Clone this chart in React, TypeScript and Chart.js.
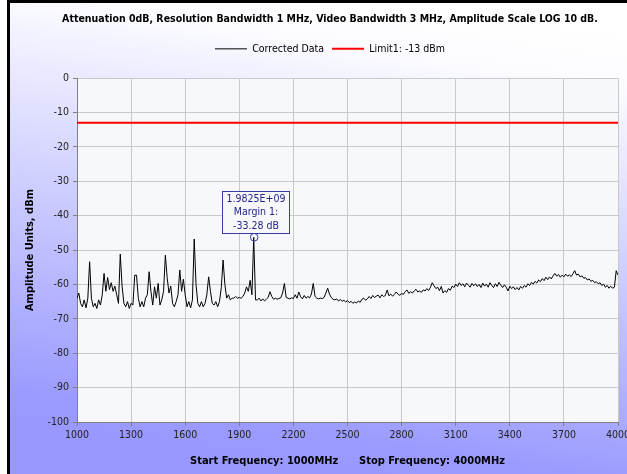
import React, { useEffect, useRef } from 'react';
import { Chart, registerables } from 'chart.js';

Chart.register(...registerables);

// ---- data ----
const FREQ_START = 1000; // MHz, first sweep point
const FREQ_STEP = 10; // MHz between sweep points

const correctedData: number[] = [
  // 1000-1090
  -64, -62.5, -65.5, -66.5, -64.5, -66.8, -64, -53.4, -64, -66.5,
  // 1100
  -65.5, -67, -64.5, -66, -63, -56.8, -62, -58, -61.5, -59.5,
  // 1200
  -62, -60.5, -63, -65.5, -51.2, -60.5, -65.5, -66.5, -65, -67,
  // 1300
  -65.5, -66, -57.3, -57.3, -64, -66.5, -65, -66.5, -64, -63,
  // 1400
  -56.3, -62, -66, -60.7, -64, -59.7, -66, -64.5, -62, -51.5,
  // 1500
  -58, -62.5, -60.5, -65.5, -66.5, -65, -63, -55.8, -62, -58.5,
  // 1600
  -63, -66.5, -65, -66.8, -64.5, -46.8, -60, -65.5, -66.5, -65,
  // 1700
  -66.5, -65.5, -63, -57.8, -62, -65.5, -66, -65, -66.5, -65,
  // 1800
  -61, -52.9, -60, -64, -63, -64.5, -64, -64, -63.5, -64,
  // 1900
  -63.8, -64, -63.5, -62.5, -60.7, -62, -58.8, -63, -46.3, -64.5,
  // 2000
  -64.5, -64, -64.8, -64.2, -64.8, -64.3, -63.8, -62.1, -63.5, -64.3,
  // 2100
  -64, -64.3, -64.1, -63.9, -62.5, -59.7, -63.8, -64, -64.2, -63.9,
  // 2200
  -64.1, -63, -64, -62.2, -63.6, -64.2, -63.2, -64, -63.5, -63.9,
  // 2300
  -62.8, -59.7, -63.5, -64, -64.2, -64, -64.1, -63.8, -62.5, -61.1,
  // 2400
  -62.8, -63.8, -64.3, -64.5, -64.2, -64.8, -64.4, -64.9, -64.6, -65.1,
  // 2500
  -64.7, -65.3, -64.9, -65.5, -65.1, -65.4, -64.8, -65.2, -64.3, -64,
  // 2600
  -64.6, -64.2, -63.5, -64.1, -63.2, -63.8, -63.4, -63.1, -63.9, -63,
  // 2700
  -63.5, -63.2, -61.6, -63.3, -62.8, -63.4, -62.9, -62.2, -62.8, -63.2,
  // 2800
  -62.6, -62.9, -62.1, -61.6, -62.6, -62.1, -62.5, -61.9, -61.4, -62.2,
  // 2900
  -61.9, -62.3, -61.6, -61.9, -61.2, -61.8, -60.8, -59.5, -60.4, -61.2,
  // 3000
  -60.8, -61.8, -60.6, -62.5, -61.8, -62.3, -61.2, -61.7, -60.5, -60.9,
  // 3100
  -59.9, -60.6, -59.5, -60.3, -59.8, -60.7, -59.6, -60.2, -60.8, -59.7,
  // 3200
  -60.4, -59.8, -60.6, -60, -60.9, -59.6, -60.5, -59.9, -60.8, -59.5,
  // 3300
  -60.3, -60.9, -59.8, -60.6, -59.4, -60.2, -60.9, -60.1, -60.8, -61.9,
  // 3400
  -60.5, -61.2, -60.7, -61.5, -60.9, -61.6, -60.6, -61.1, -60.3, -60.8,
  // 3500
  -59.8, -60.3, -59.4, -59.9, -59.1, -59.6, -58.7, -59.2, -58.3, -58.9,
  // 3600
  -57.9, -58.6, -57.8, -58.4, -57.5, -56.8, -57.6, -57.1, -57.9, -57.3,
  // 3700
  -57.8, -57, -57.6, -57.2, -57.7, -56.9, -56, -57.3, -57, -57.8,
  // 3800
  -57.5, -58.2, -58, -58.7, -58.4, -59.1, -58.8, -59.5, -59.2, -59.8,
  // 3900
  -59.5, -60.3, -59.9, -60.8, -60.3, -61.1, -60.5, -61.1, -60.8, -56,
  // 4000
  -57.3,
];

const limitLevel = -13; // dBm
const limitRange = [1000, 4000];

const xTickValues = [1000, 1300, 1600, 1900, 2200, 2500, 2800, 3100, 3400, 3700, 4000];
const yTickValues = [0, -10, -20, -30, -40, -50, -60, -70, -80, -90, -100];

const markerFreq = 1982.5; // MHz
const markerLevel = -46.28; // dBm
const markerLines = ['1.9825E+09', 'Margin 1:', '-33.28 dB'];

const titleText =
  'Attenuation 0dB, Resolution Bandwidth 1 MHz, Video Bandwidth 3 MHz, Amplitude Scale LOG 10 dB.';
const xTitleText = 'Start Frequency: 1000MHz      Stop Frequency: 4000MHz';
const yTitleText = 'Amplitude Units, dBm';
const seriesNames = ['Corrected Data', 'Limit1: -13 dBm'];

// ---- styling ----
const FONT = "'DejaVu Sans Condensed', 'DejaVu Sans', sans-serif";
const CANVAS_W = 636;
const CANVAS_H = 474;

const backgroundPlugin = {
  id: 'bgPaint',
  beforeDraw(chart: any) {
    const { ctx, chartArea } = chart;
    ctx.save();
    ctx.fillStyle = '#ffffff';
    ctx.fillRect(0, 0, chart.width, chart.height);
    const g = ctx.createLinearGradient(390, 0, 320, CANVAS_H);
    g.addColorStop(0, '#ffffff');
    g.addColorStop(0.1, '#fcfcff');
    g.addColorStop(0.93, '#9a9aff');
    g.addColorStop(1, '#9898ff');
    ctx.fillStyle = g;
    ctx.fillRect(10, 0, chart.width - 10, chart.height);
    ctx.fillStyle = '#000000';
    ctx.fillRect(7, 0, 3, chart.height);
    ctx.fillRect(7, 0, chart.width - 7, 3);
    ctx.fillStyle = '#f7f8fc';
    ctx.fillRect(chartArea.left, chartArea.top, chartArea.right - chartArea.left, chartArea.bottom - chartArea.top);
    ctx.restore();
  },
};

const markerPlugin = {
  id: 'marginMarker',
  afterDatasetsDraw(chart: any) {
    const { ctx, scales } = chart;
    const px = scales.x.getPixelForValue(markerFreq);
    const py = scales.y.getPixelForValue(markerLevel);
    ctx.save();
    ctx.strokeStyle = '#3a3aa8';
    ctx.lineWidth = 1;
    ctx.beginPath();
    ctx.arc(px, py, 3.8, 0, Math.PI * 2);
    ctx.stroke();
    ctx.font = `10.5px ${FONT}`;
    const lineH = 13.4;
    let tw = 0;
    for (const l of markerLines) tw = Math.max(tw, ctx.measureText(l).width);
    const w = Math.round(tw + 8);
    const h = Math.round(lineH * markerLines.length + 2);
    const bx = Math.round(px - w / 2 + 1) + 0.5;
    const by = Math.round(py - 4 - h) + 0.5;
    ctx.fillStyle = '#f7f8fc';
    ctx.fillRect(bx, by, w, h);
    ctx.strokeRect(bx, by, w, h);
    ctx.fillStyle = '#24248c';
    ctx.textAlign = 'center';
    ctx.textBaseline = 'middle';
    markerLines.forEach((l, i) => {
      ctx.fillText(l, bx + w / 2, by + 7.5 + i * lineH);
    });
    ctx.restore();
  },
};

export default function App() {
  const ref = useRef<HTMLCanvasElement | null>(null);

  useEffect(() => {
    if (!ref.current) return;
    const spectrum = correctedData.map((v, i) => ({ x: FREQ_START + i * FREQ_STEP, y: v }));
    const limit = limitRange.map((f) => ({ x: f, y: limitLevel }));

    const chart = new Chart(ref.current, {
      type: 'line',
      data: {
        datasets: [
          {
            label: seriesNames[0],
            data: spectrum,
            borderColor: '#000000',
            borderWidth: 1,
            pointRadius: 0,
            tension: 0,
            fill: false,
          },
          {
            label: seriesNames[1],
            data: limit,
            borderColor: '#ff0000',
            borderWidth: 2,
            pointRadius: 0,
            fill: false,
          },
        ],
      },
      options: {
        animation: false,
        responsive: false,
        devicePixelRatio: 1,
        layout: { padding: { left: 24, right: 0, top: 0, bottom: 0 } },
        plugins: {
          title: {
            display: true,
            text: titleText,
            color: '#000',
            font: { family: FONT, size: 10.5, weight: 'bold' },
            padding: { top: 13, bottom: 10 },
          },
          // empty spacer between legend and plot area
          subtitle: {
            display: true,
            text: '',
            weight: 500,
            font: { family: FONT, size: 10 },
            padding: { top: 1, bottom: 1 },
          },
          legend: {
            display: true,
            labels: {
              font: { family: FONT, size: 10.5 },
              color: '#000',
              usePointStyle: true,
              pointStyleWidth: 32,
              padding: 8,
              generateLabels: (c: any) =>
                c.data.datasets.map((ds: any, i: number) => ({
                  text: ds.label,
                  strokeStyle: ds.borderColor,
                  fillStyle: ds.borderColor,
                  lineWidth: ds.borderWidth,
                  pointStyle: 'line',
                  hidden: false,
                  datasetIndex: i,
                  fontColor: '#000',
                })),
            },
          },
          tooltip: { enabled: false },
        },
        scales: {
          x: {
            type: 'linear',
            min: 1000,
            max: 4000,
            afterBuildTicks: (s: any) => {
              s.ticks = xTickValues.map((v) => ({ value: v }));
            },
            afterFit: (s: any) => {
              s.height = 52;
              s.paddingRight = 18;
            },
            ticks: {
              color: '#222',
              font: { family: FONT, size: 10.5 },
              padding: 3,
              maxRotation: 0,
              autoSkip: false,
              callback: (v: any) => String(v),
            },
            grid: { color: '#c9c9c9', tickColor: '#808080', tickLength: 4 },
            border: { color: '#808080' },
            title: {
              display: true,
              text: xTitleText,
              color: '#000',
              font: { family: FONT, size: 11, weight: 'bold' },
              padding: { top: 0, bottom: 6 },
            },
          },
          y: {
            type: 'linear',
            min: -100,
            max: 0,
            afterBuildTicks: (s: any) => {
              s.ticks = yTickValues.map((v) => ({ value: v }));
            },
            afterFit: (s: any) => {
              s.width = 53;
            },
            ticks: {
              color: '#222',
              font: { family: FONT, size: 10.5 },
              padding: 4,
              autoSkip: false,
              callback: (v: any) => String(v),
            },
            grid: { color: '#c9c9c9', tickColor: '#808080', tickLength: 4 },
            border: { color: '#808080' },
            title: {
              display: true,
              text: yTitleText,
              color: '#000',
              font: { family: FONT, size: 11, weight: 'bold' },
              padding: { top: 0, bottom: 0 },
            },
          },
        },
      },
      plugins: [backgroundPlugin, markerPlugin],
    } as any);

    return () => chart.destroy();
  }, []);

  return (
    <div
      style={{
        position: 'fixed',
        left: 0,
        top: 0,
        width: 627,
        height: 474,
        overflow: 'hidden',
        background: '#fff',
      }}
    >
      <canvas
        ref={ref}
        width={CANVAS_W}
        height={CANVAS_H}
        style={{ position: 'absolute', left: 0, top: 0, width: CANVAS_W, height: CANVAS_H }}
      />
    </div>
  );
}
